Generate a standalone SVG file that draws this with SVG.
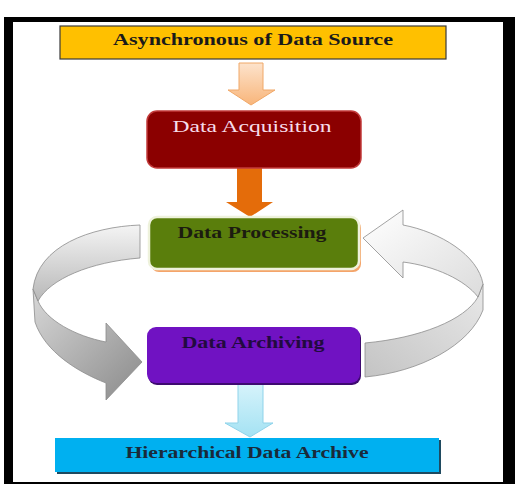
<svg xmlns="http://www.w3.org/2000/svg" width="515" height="484" viewBox="0 0 515 484">
<defs>
<style>
.t{font-family:"Liberation Serif","Times New Roman",serif;font-size:17px;text-anchor:middle}
.b{font-weight:bold}
</style>
<linearGradient id="gOr" x1="0" y1="0" x2="0" y2="1"><stop offset="0" stop-color="#fde3cc"/><stop offset="1" stop-color="#f8b57a"/></linearGradient>
<linearGradient id="gBl" x1="0" y1="0" x2="0" y2="1"><stop offset="0" stop-color="#d6f3fb"/><stop offset="1" stop-color="#a4e2f3"/></linearGradient>
<linearGradient id="gL1" x1="0" y1="0" x2="0" y2="1"><stop offset="0" stop-color="#f4f4f4"/><stop offset="1" stop-color="#b8b8b8"/></linearGradient>
<linearGradient id="gL2" x1="0" y1="0" x2="1" y2="1"><stop offset="0" stop-color="#d8d8d8"/><stop offset="1" stop-color="#8a8a8a"/></linearGradient>
<linearGradient id="gR1" x1="0" y1="0" x2="1" y2="1"><stop offset="0" stop-color="#ffffff"/><stop offset="1" stop-color="#dcdcdc"/></linearGradient>
<linearGradient id="gR2" x1="1" y1="0" x2="0" y2="1"><stop offset="0" stop-color="#e8e8e8"/><stop offset="1" stop-color="#c4c4c4"/></linearGradient>
</defs>
<rect x="0" y="0" width="515" height="484" fill="#ffffff"/>
<rect x="4" y="17" width="511" height="467" fill="#000000"/>
<rect x="13" y="22" width="490" height="460" fill="#ffffff"/>

<g id="connectors">
  <path d="M239,63 H263 V90 H275 L251,105 L228,90 H239 Z" fill="url(#gOr)" stroke="#f0a868" stroke-width="1"/>
  <path d="M237,168 H262 V202 H273 L250,217 L226,202 H237 Z" fill="#e46c0a"/>
  <path d="M238,384 H263 V423 H273 L250,437 L225,423 H238 Z" fill="url(#gBl)" stroke="#8fd3ea" stroke-width="1"/>
  <g id="loop-left" stroke="#8c8c8c" stroke-width="0.8">
    <path d="M106,342 C75,336 46,320 38,301 L33,289 L35,322 C45,352 78,372 106,383 L106,400 L142,362 L106,323 Z" fill="url(#gL2)"/>
    <path d="M140,225 C90,227 38,246 33,289 L38,301 C50,279 90,262 140,258 Z" fill="url(#gL1)"/>
  </g>
  <g id="loop-right" stroke="#8c8c8c" stroke-width="0.8">
    <path d="M365,343 C420,338 465,320 478,297 L483,284 L483,310 C470,345 420,372 365,377 Z" fill="url(#gR2)"/>
    <path d="M363,238 L403,210 L403,225 C440,232 478,255 483,284 L478,297 C465,280 435,266 403,262 L403,278 Z" fill="url(#gR1)"/>
  </g>
</g>

<g id="source">
  <rect x="60" y="26" width="386" height="33" fill="#ffc000" stroke="#3a3a3a" stroke-width="1.2"/>
  <text class="t b" x="253" y="45" fill="#1a1a1a" textLength="280" lengthAdjust="spacingAndGlyphs">Asynchronous of Data Source</text>
</g>

<g id="acquisition">
  <rect x="147" y="111" width="214" height="57" rx="10" fill="#8b0000" stroke="#c23a3a" stroke-width="1.5"/>
  <text class="t" x="252" y="132" fill="#f6dcea" textLength="159" lengthAdjust="spacingAndGlyphs">Data Acquisition</text>
</g>

<g id="processing">
  <rect x="151" y="220" width="210" height="52" rx="8" fill="#f4a46a"/>
  <rect x="149" y="217" width="210" height="52" rx="8" fill="#5a7e0c" stroke="#eef2dc" stroke-width="2.5"/>
  <text class="t b" x="252" y="238" fill="#1c1c10" textLength="149" lengthAdjust="spacingAndGlyphs">Data Processing</text>
</g>

<g id="archiving">
  <rect x="148" y="329" width="213" height="56" rx="9" fill="#3e0a70"/>
  <rect x="147" y="327" width="213" height="56" rx="9" fill="#7012c2"/>
  <text class="t b" x="253" y="348" fill="#220a40" textLength="143" lengthAdjust="spacingAndGlyphs">Data Archiving</text>
</g>

<g id="archive">
  <rect x="57" y="440" width="384" height="34" fill="#1f4a60"/>
  <rect x="55" y="438" width="384" height="34" fill="#00b0f0"/>
  <text class="t b" x="247" y="458" fill="#1a2a3a" textLength="243" lengthAdjust="spacingAndGlyphs">Hierarchical Data Archive</text>
</g>
</svg>
